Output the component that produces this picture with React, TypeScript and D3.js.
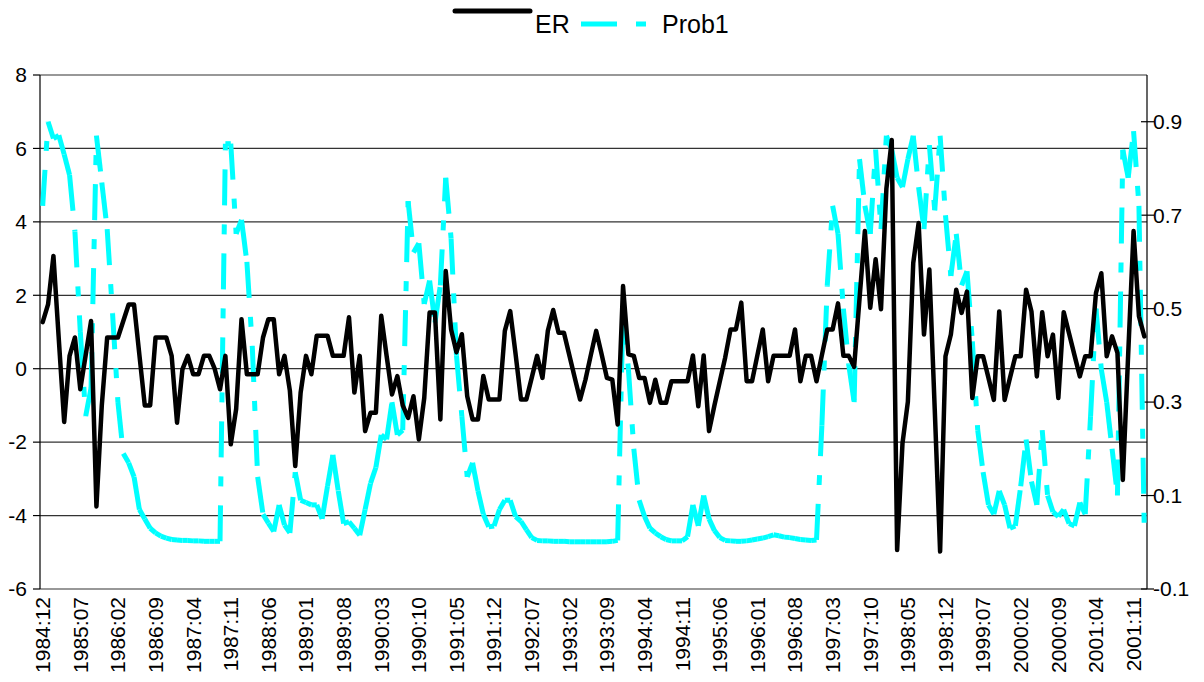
import React from "react";
import * as d3 from "d3";

// ---- data (monthly, 1984:12 .. 2002:01) ----
const startYear = 1984;
const startMonth = 12;

const erValues: number[] = [
  1.27, 1.75, 3.07, 0.8, -1.45, 0.35, 0.85, -0.56, 0.37, 1.3,
  -3.75, -1.0, 0.85, 0.85, 0.85, 1.3, 1.75, 1.75, 0.37, -1.0,
  -1.0, 0.85, 0.85, 0.85, 0.35, -1.47, -0.02, 0.35, -0.15, -0.15,
  0.35, 0.35, 0.0, -0.56, 0.35, -2.06, -1.1, 1.35, -0.15, -0.15,
  -0.15, 0.85, 1.35, 1.35, -0.15, 0.35, -0.6, -2.65, -0.65, 0.35,
  -0.15, 0.9, 0.9, 0.9, 0.35, 0.35, 0.35, 1.4, -0.65, 0.35,
  -1.7, -1.2, -1.2, 1.44, 0.35, -0.7, -0.2, -1.0, -1.34, -0.75,
  -1.93, -0.8, 1.53, 1.53, -1.38, 2.66, 1.07, 0.45, 0.94, -0.75,
  -1.38, -1.38, -0.2, -0.84, -0.84, -0.84, 1.03, 1.57, 0.4, -0.84,
  -0.84, -0.25, 0.35, -0.25, 1.03, 1.6, 0.98, 0.98, 0.37, -0.24,
  -0.84, -0.3, 0.37, 1.03, 0.4, -0.25, -0.3, -1.52, 2.25, 0.39,
  0.35, -0.25, -0.25, -0.93, -0.3, -0.93, -0.93, -0.34, -0.34, -0.34,
  -0.34, 0.36, -1.02, 0.36, -1.7, -1.0, -0.35, 0.3, 1.07, 1.07,
  1.8, -0.34, -0.34, 0.37, 1.07, -0.34, 0.35, 0.35, 0.35, 0.35,
  1.07, -0.34, 0.35, 0.35, -0.34, 0.37, 1.07, 1.07, 1.78, 0.35,
  0.35, 0.05, 1.9, 3.75, 1.66, 2.98, 1.62, 4.9, 6.23, -4.94,
  -2.03, -0.9, 2.88, 3.97, 0.93, 2.7, -1.1, -4.98, 0.34, 0.93,
  2.15, 1.52, 2.1, -0.8, 0.34, 0.34, -0.25, -0.85, 1.56, -0.85,
  -0.25, 0.34, 0.34, 2.15, 1.56, -0.21, 1.54, 0.34, 0.93, -0.8,
  1.54, 0.96, 0.37, -0.21, 0.34, 0.34, 2.06, 2.6, 0.34, 0.88,
  0.43, -3.03, 0.4, 3.75, 1.43, 0.88,
];

const prob1Values: number[] = [
  0.72, 0.9, 0.864, 0.871, 0.83, 0.786, 0.665, 0.45, 0.27, 0.33,
  0.87, 0.77, 0.67, 0.49, 0.3, 0.19, 0.17, 0.14, 0.07, 0.05,
  0.03, 0.02, 0.013, 0.009, 0.006, 0.005, 0.004, 0.004, 0.003, 0.003,
  0.002, 0.002, 0.002, 0.002, 0.853, 0.853, 0.66, 0.69, 0.6, 0.42,
  0.14, 0.06, 0.041, 0.023, 0.08, 0.037, 0.02, 0.15, 0.09, 0.085,
  0.08, 0.08, 0.05, 0.12, 0.187, 0.11, 0.04, 0.044, 0.03, 0.015,
  0.07, 0.126, 0.16, 0.23, 0.22, 0.3, 0.23, 0.24, 0.73, 0.62,
  0.64, 0.51, 0.56, 0.47, 0.55, 0.78, 0.65, 0.4, 0.27, 0.14,
  0.17, 0.11, 0.06, 0.033, 0.035, 0.07, 0.09, 0.09, 0.055, 0.045,
  0.027, 0.01, 0.004, 0.003, 0.003, 0.002, 0.002, 0.002, 0.001, 0.001,
  0.001, 0.001, 0.001, 0.001, 0.001, 0.001, 0.002, 0.004, 0.5, 0.37,
  0.2, 0.09, 0.055, 0.03, 0.02, 0.012, 0.006, 0.003, 0.003, 0.003,
  0.012, 0.08, 0.035, 0.1, 0.05, 0.025, 0.01, 0.004, 0.003, 0.002,
  0.002, 0.003, 0.005, 0.007, 0.009, 0.012, 0.016, 0.014, 0.011, 0.01,
  0.008, 0.006, 0.005, 0.004, 0.005, 0.25, 0.55, 0.72, 0.66, 0.5,
  0.38, 0.3, 0.82, 0.72, 0.66, 0.84, 0.67, 0.87, 0.84, 0.78,
  0.76, 0.82, 0.87, 0.76, 0.67, 0.85, 0.71, 0.87, 0.7, 0.57,
  0.66, 0.55, 0.58, 0.43, 0.24, 0.15, 0.08, 0.06, 0.11, 0.08,
  0.03, 0.035, 0.12, 0.22, 0.13, 0.08, 0.24, 0.1, 0.065, 0.055,
  0.07, 0.04, 0.035, 0.085, 0.06, 0.27, 0.5, 0.37, 0.3, 0.2,
  0.1, 0.84, 0.78, 0.88, 0.72, 0.02,
];

const leftTicks: number[] = [-6, -4, -2, 0, 2, 4, 6, 8];
const rightTicks: number[] = [-0.1, 0.1, 0.3, 0.5, 0.7, 0.9];
const xTickLabels: string[] = [
  "1984:12", "1985:07", "1986:02", "1986:09", "1987:04", "1987:11",
  "1988:06", "1989:01", "1989:08", "1990:03", "1990:10", "1991:05",
  "1991:12", "1992:07", "1993:02", "1993:09", "1994:04", "1994:11",
  "1995:06", "1996:01", "1996:08", "1997:03", "1997:10", "1998:05",
  "1998:12", "1999:07", "2000:02", "2000:09", "2001:04", "2001:11",
];
const seriesNames = ["ER", "Prob1"];

function monthLabel(i: number): string {
  const t = startYear * 12 + (startMonth - 1) + i;
  const y = Math.floor(t / 12);
  const m = (t % 12) + 1;
  return `${y}:${m < 10 ? "0" + m : m}`;
}
const categories: string[] = erValues.map((_, i) => monthLabel(i));

// ---- layout ----
const W = 1204;
const H = 682;
const L = 40;
const R = 1147;
const T = 75;
const B = 589;
const FONT = "'Liberation Sans', Arial, sans-serif";
const CYAN = "#00FFFF";
const DASH = "36 19 10 19";

export default function App() {
  const x = d3.scaleBand<string>().domain(categories).range([L, R]);
  const cx = (i: number) => (x(categories[i]) as number) + x.bandwidth() / 2;
  const yL = d3.scaleLinear().domain([-6, 8]).range([B, T]);
  const yR = d3.scaleLinear().domain([-0.1, 1.0]).range([B, T]);

  const erLine = d3
    .line<number>()
    .x((_, i) => cx(i))
    .y((d) => yL(d))(erValues) as string;

  const probSegs: string[] = [];
  for (let i = 0; i < prob1Values.length - 1; i++) {
    probSegs.push(
      `M${cx(i)},${yR(prob1Values[i])}L${cx(i + 1)},${yR(prob1Values[i + 1])}`
    );
  }

  return (
    <svg
      width={W}
      height={H}
      viewBox={`0 0 ${W} ${H}`}
      style={{ position: "absolute", left: 0, top: 0, background: "#fff" }}
      fontFamily={FONT}
    >
      <rect x={0} y={0} width={W} height={H} fill="#fff" />
      {/* gridlines */}
      {leftTicks.map((t) => (
        <line
          key={"g" + t}
          x1={L}
          x2={R}
          y1={yL(t)}
          y2={yL(t)}
          stroke="#333"
          strokeWidth={1.2}
        />
      ))}
      {/* axes */}
      <line x1={L} x2={L} y1={T} y2={B} stroke="#000" strokeWidth={1.2} />
      <line x1={R} x2={R} y1={T} y2={B} stroke="#000" strokeWidth={1.2} />
      {leftTicks.map((t) => (
        <g key={"lt" + t}>
          <line x1={L - 7} x2={L} y1={yL(t)} y2={yL(t)} stroke="#000" strokeWidth={1.2} />
          <text x={L - 13} y={yL(t)} dy="0.35em" textAnchor="end" fontSize={21}>
            {t}
          </text>
        </g>
      ))}
      {rightTicks.map((t) => (
        <g key={"rt" + t}>
          <line x1={R - 6} x2={R + 7} y1={yR(t)} y2={yR(t)} stroke="#000" strokeWidth={1.2} />
          <text x={R + 6} y={yR(t)} dy="0.35em" textAnchor="start" fontSize={21}>
            {t.toFixed(1)}
          </text>
        </g>
      ))}
      {/* x labels */}
      {xTickLabels.map((lab) => {
        const i = categories.indexOf(lab);
        const px = cx(i);
        return (
          <text
            key={lab}
            transform={`translate(${px},${B + 8}) rotate(-90)`}
            dy="0.35em"
            textAnchor="end"
            fontSize={21}
          >
            {lab}
          </text>
        );
      })}
      {/* Prob1 (dash pattern restarts on every segment) */}
      <g fill="none" stroke={CYAN} strokeWidth={5} strokeDasharray={DASH}>
        {probSegs.map((d, i) => (
          <path key={i} d={d} />
        ))}
      </g>
      {/* ER */}
      <path
        d={erLine}
        fill="none"
        stroke="#000"
        strokeWidth={4.5}
        strokeLinejoin="round"
        strokeLinecap="round"
      />
      {/* legend */}
      <line x1={455} x2={530} y1={11} y2={11} stroke="#000" strokeWidth={5} strokeLinecap="round" />
      <text x={535} y={33} fontSize={25}>
        {seriesNames[0]}
      </text>
      <line x1={581} x2={656} y1={24} y2={24} stroke={CYAN} strokeWidth={5} strokeDasharray={DASH} />
      <text x={662} y={33} fontSize={25}>
        {seriesNames[1]}
      </text>
    </svg>
  );
}
